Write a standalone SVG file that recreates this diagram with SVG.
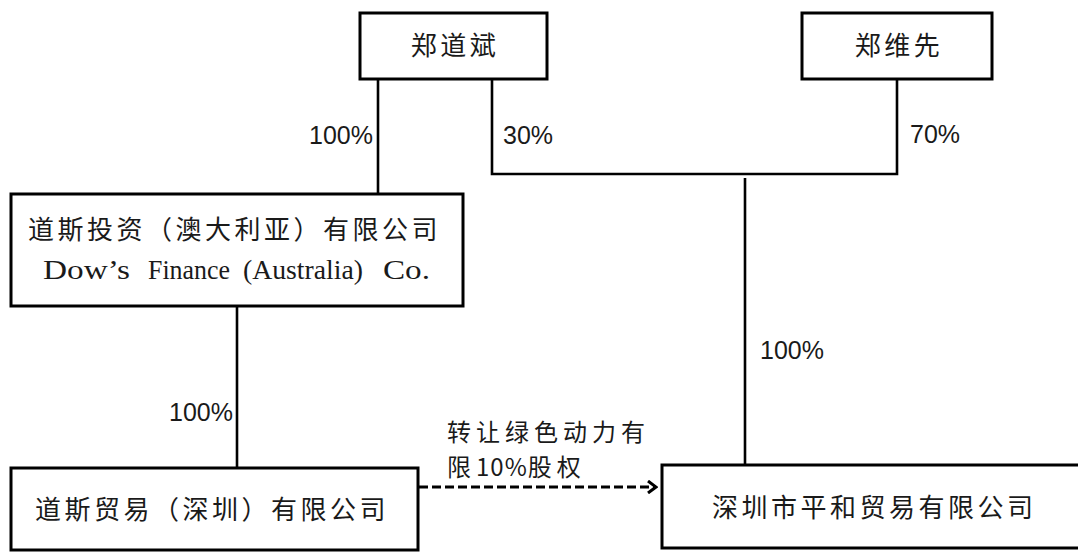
<svg xmlns="http://www.w3.org/2000/svg" width="1078" height="552" viewBox="0 0 1078 552">
<style>
.box{fill:#fff;stroke:#000;stroke-width:3}
.cn{font-family:"Noto Sans CJK SC","Liberation Sans",sans-serif;font-size:26px;fill:#1a1a1a;letter-spacing:3.5px}
.lbl{font-family:"Noto Sans CJK SC","Liberation Sans",sans-serif;font-size:24px;fill:#1a1a1a;letter-spacing:5px}
.en{font-family:"Liberation Serif",serif;font-size:27px;fill:#1a1a1a}
.pct{font-family:"Liberation Sans","Noto Sans CJK SC",sans-serif;font-size:25px;fill:#1a1a1a}
.ln{stroke:#000;stroke-width:2.6;fill:none}
</style>
<defs>
<marker id="arr" markerWidth="12" markerHeight="14" refX="10" refY="7" orient="auto" markerUnits="userSpaceOnUse">
<path d="M2,1 L10,7 L2,13" fill="none" stroke="#000" stroke-width="3"/>
</marker>
</defs>
<rect width="1078" height="552" fill="#fff"/>
<g id="connectors">
<line class="ln" x1="378" y1="79" x2="378" y2="194"/>
<polyline class="ln" points="492,79 492,174 897,174 897,79"/>
<line class="ln" x1="745" y1="178" x2="745" y2="465"/>
<line class="ln" x1="237" y1="306" x2="237" y2="468"/>
<line x1="419" y1="487" x2="656" y2="487" stroke="#000" stroke-width="3" stroke-dasharray="9,4" marker-end="url(#arr)"/>
<text class="pct" x="373" y="144" text-anchor="end">100%</text>
<text class="pct" x="503" y="144">30%</text>
<text class="pct" x="910" y="143">70%</text>
<text class="pct" x="760" y="359">100%</text>
<text class="pct" x="233" y="421" text-anchor="end">100%</text>
<text class="lbl" x="447" y="441">转让绿色动力有</text>
<text class="lbl" x="447" y="476">限<tspan letter-spacing="1">10%</tspan>股权</text>
</g>
<g id="zheng-daobin">
<rect class="box" x="360" y="13" width="187" height="66"/>
<text class="cn" x="455" y="55" text-anchor="middle">郑道斌</text>
</g>
<g id="zheng-weixian">
<rect class="box" x="802" y="13" width="190" height="66"/>
<text class="cn" x="899" y="55" text-anchor="middle">郑维先</text>
</g>
<g id="dows-finance">
<rect class="box" x="11" y="194" width="452" height="112"/>
<text class="cn" x="28" y="239">道斯投资（澳大利亚）有限公司</text>
<text class="en" y="279"><tspan x="43" textLength="87" lengthAdjust="spacingAndGlyphs">Dow’s</tspan><tspan x="148" textLength="82" lengthAdjust="spacingAndGlyphs">Finance</tspan><tspan x="243" textLength="120" lengthAdjust="spacingAndGlyphs">(Australia)</tspan><tspan x="383" textLength="47" lengthAdjust="spacingAndGlyphs">Co.</tspan></text>
</g>
<g id="dows-trading">
<rect class="box" x="11" y="468" width="407" height="82"/>
<text class="cn" x="35" y="519">道斯贸易（深圳）有限公司</text>
</g>
<g id="pinghe-trading">
<rect class="box" x="662" y="465" width="430" height="83"/>
<text class="cn" x="712" y="517">深圳市平和贸易有限公司</text>
</g>
</svg>
